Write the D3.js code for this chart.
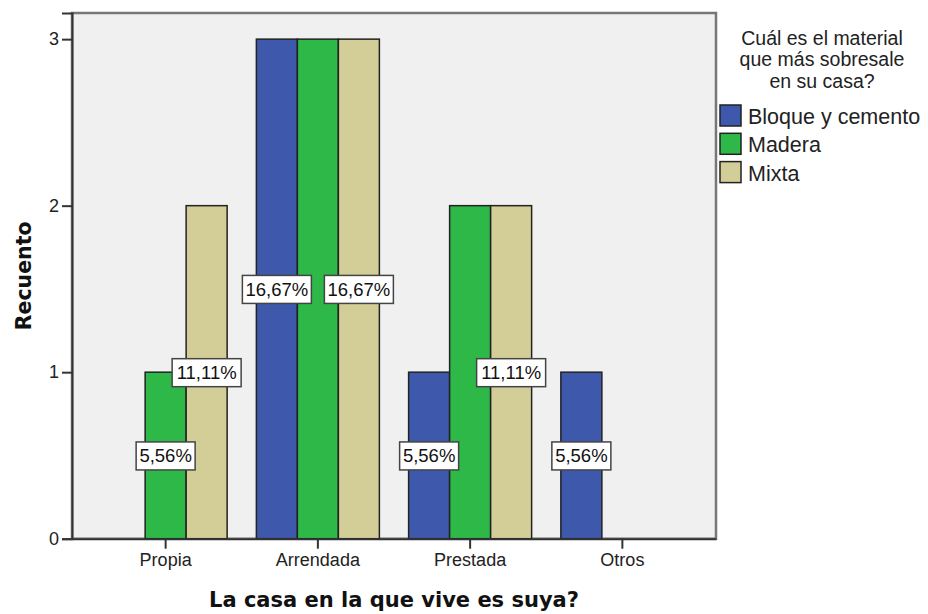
<!DOCTYPE html>
<html>
<head>
<meta charset="utf-8">
<script src="https://cdn.jsdelivr.net/npm/d3@7"></script>
<style>
  body { margin: 0; background: #fff; }
  text { font-family: "Liberation Sans", Arial, sans-serif; }
</style>
</head>
<body>
<svg id="chart"></svg>
<script>
// Data
var categories = ["Propia", "Arrendada", "Prestada", "Otros"];
var series = ["Bloque y cemento", "Madera", "Mixta"];
var bloque = [0, 3, 1, 1];
var madera = [1, 3, 2, 0];
var mixta  = [2, 3, 2, 0];
var yTicks = [0, 1, 2, 3];
var total = 18;
// bars carrying a percentage label: [category, series]
var labelled = [
  ["Propia", "Madera"], ["Propia", "Mixta"],
  ["Arrendada", "Bloque y cemento"], ["Arrendada", "Mixta"],
  ["Prestada", "Bloque y cemento"], ["Prestada", "Mixta"],
  ["Otros", "Bloque y cemento"]
];
var legendTitle = ["Cuál es el material", "que más sobresale", "en su casa?"];

var w = 928, h = 614;
var margin = { top: 13, right: 212, bottom: 75, left: 72 };
var colors = ["#3e58ac", "#2eb848", "#d3ce97"];

var svg = d3.select("#chart").attr("width", w).attr("height", h);

var values = [bloque, madera, mixta];
var rows = [];
categories.forEach(function(c, i) {
  series.forEach(function(s, j) {
    rows.push({ cat: c, ser: s, count: values[j][i] });
  });
});

var x0 = d3.scaleBand()
  .domain(categories)
  .range([margin.left, w - margin.right])
  .paddingInner(0.192)
  .paddingOuter(0.211);

var x1 = d3.scaleBand()
  .domain(series)
  .range([0, x0.bandwidth()]);

var y = d3.scaleLinear()
  .domain([0, 3.157])
  .range([h - margin.bottom - 0.3, margin.top]);

var color = d3.scaleOrdinal().domain(series).range(colors);

// plot background
svg.append("rect")
  .attr("x", margin.left)
  .attr("y", margin.top)
  .attr("width", w - margin.right - margin.left)
  .attr("height", y(0) - margin.top)
  .attr("fill", "#f0f0f0")
  .attr("stroke", "#777")
  .attr("stroke-width", 2.5);

// bars
svg.append("g")
  .selectAll("rect")
  .data(rows.filter(function(d) { return d.count > 0; }))
  .enter()
  .append("rect")
  .attr("x", function(d) { return x0(d.cat) + x1(d.ser); })
  .attr("y", function(d) { return y(d.count); })
  .attr("width", x1.bandwidth())
  .attr("height", function(d) { return y(0) - y(d.count); })
  .attr("fill", function(d) { return color(d.ser); })
  .attr("stroke", "#222")
  .attr("stroke-width", 1.5);

// y axis
var yAxis = svg.append("g")
  .attr("transform", "translate(" + margin.left + ",0)")
  .call(d3.axisLeft(y).tickValues(yTicks).tickSize(10).tickPadding(3).tickFormat(d3.format("d")));
yAxis.select(".domain").attr("stroke", "#333").attr("stroke-width", 2);
yAxis.selectAll(".tick line").attr("stroke", "#333").attr("stroke-width", 2);
yAxis.selectAll("text")
  .attr("fill", "#222")
  .style("font-size", "18px")
  .style("font-family", "'Liberation Sans', Arial, sans-serif");

// x axis
var xAxis = svg.append("g")
  .attr("transform", "translate(0," + y(0) + ")")
  .call(d3.axisBottom(x0).tickSize(10).tickSizeOuter(0).tickPadding(5));
xAxis.select(".domain").attr("stroke", "#333").attr("stroke-width", 2);
xAxis.selectAll(".tick line").attr("stroke", "#333").attr("stroke-width", 2);
xAxis.selectAll("text")
  .attr("fill", "#222")
  .style("font-size", "18px")
  .style("font-family", "'Liberation Sans', Arial, sans-serif");

// percentage labels
var lab = svg.append("g")
  .selectAll("g")
  .data(rows.filter(function(d) {
    return labelled.some(function(l) { return l[0] === d.cat && l[1] === d.ser; });
  }))
  .enter()
  .append("g")
  .attr("transform", function(d) {
    return "translate(" + (x0(d.cat) + x1(d.ser) + x1.bandwidth() / 2) + "," + y(d.count / 2) + ")";
  });

lab.append("rect")
  .attr("x", function(d) { return d.count / total > 0.1 ? -34.5 : -29.5; })
  .attr("y", -13.5)
  .attr("width", function(d) { return d.count / total > 0.1 ? 69 : 59; })
  .attr("height", 28)
  .attr("fill", "#fff")
  .attr("stroke", "#444")
  .attr("stroke-width", 1.5);

lab.append("text")
  .attr("text-anchor", "middle")
  .attr("dy", "0.36em")
  .style("font-size", "18.5px")
  .attr("fill", "#111")
  .text(function(d) { return d3.format(".2f")(d.count / total * 100).replace(".", ",") + "%"; });

// axis titles
svg.append("text")
  .attr("x", (margin.left + w - margin.right) / 2)
  .attr("y", 607)
  .attr("text-anchor", "middle")
  .style("font-family", "'DejaVu Sans', sans-serif")
  .style("font-weight", "bold")
  .style("font-size", "21px")
  .attr("fill", "#111")
  .text("La casa en la que vive es suya?");

svg.append("text")
  .attr("transform", "translate(31," + (margin.top + y(0)) / 2 + ") rotate(-90)")
  .attr("text-anchor", "middle")
  .style("font-family", "'DejaVu Sans', sans-serif")
  .style("font-weight", "bold")
  .style("font-size", "20.5px")
  .attr("fill", "#111")
  .text("Recuento");

// legend
var legend = svg.append("g");
legend.selectAll(".ltitle")
  .data(legendTitle)
  .enter()
  .append("text")
  .attr("class", "ltitle")
  .attr("x", 822)
  .attr("y", function(d, i) { return 44.5 + i * 21.5; })
  .attr("text-anchor", "middle")
  .style("font-size", "19.5px")
  .attr("fill", "#222")
  .text(function(d) { return d; });

var items = legend.selectAll(".item")
  .data(series)
  .enter()
  .append("g")
  .attr("class", "item")
  .attr("transform", function(d, i) { return "translate(720," + (105 + i * 28.3) + ")"; });

items.append("rect")
  .attr("width", 21)
  .attr("height", 21)
  .attr("fill", function(d) { return color(d); })
  .attr("stroke", "#222")
  .attr("stroke-width", 1.5);

items.append("text")
  .attr("x", 28)
  .attr("y", 19)
  .style("font-size", "21.5px")
  .attr("fill", "#222")
  .text(function(d) { return d; });
</script>
</body>
</html>
